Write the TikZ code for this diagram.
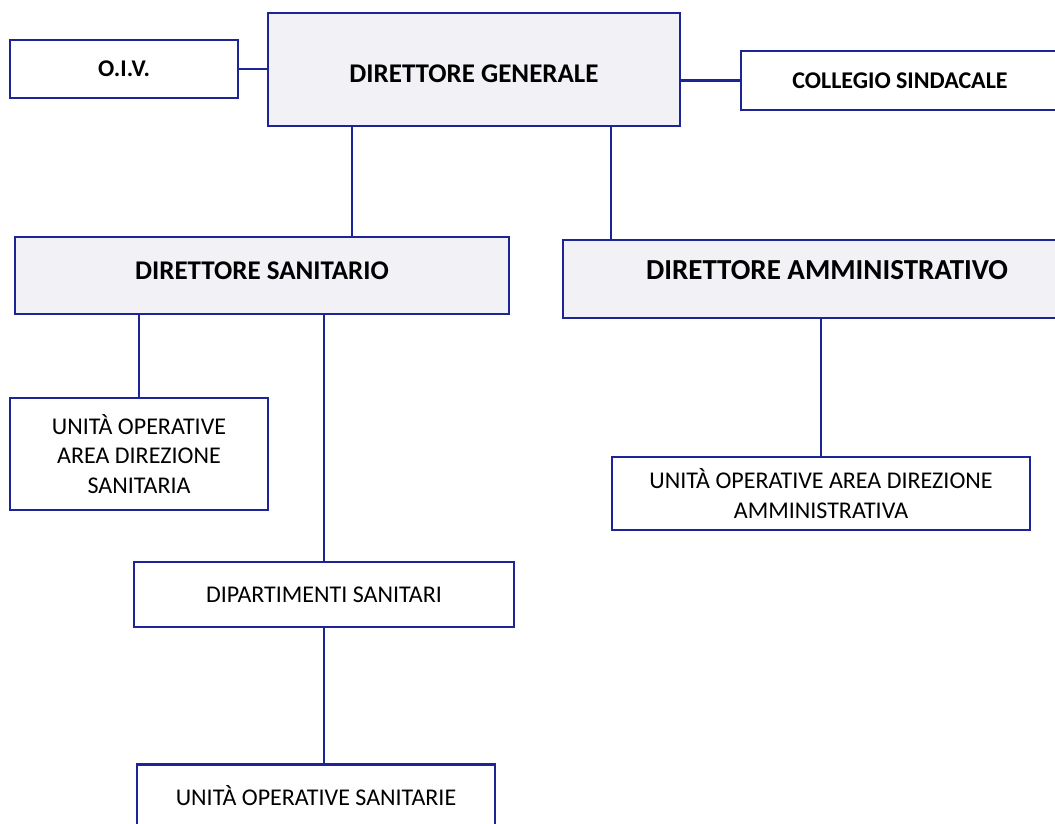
\documentclass[tikz,border=0pt]{standalone}
\usepackage{fontspec}
\setmainfont{Carlito}

\definecolor{orgblue}{RGB}{28,36,150}
\definecolor{orgfill}{RGB}{241,241,246}

\begin{document}
\begin{tikzpicture}[x=1pt,y=-1pt,
	unitbox/.style={draw=orgblue,line width=2.4pt,rectangle,inner sep=0pt,align=center,font=\fontsize{24}{29.5}\selectfont},
	headbox/.style={unitbox,fill=orgfill,font=\fontsize{27}{32}\selectfont\bfseries},
	sidebox/.style={unitbox,font=\fontsize{24}{29}\selectfont\bfseries},
	link/.style={draw=orgblue,line width=2.4pt}]

	\useasboundingbox (0,0) rectangle (1055,823);
	\fill [white] (0,0) rectangle (1055,823);
	\clip (0,0) rectangle (1055,823);

	% top row
	\node [name=oiv,sidebox,minimum width=228,minimum height=58] at (124,69) {O.I.V.};
	\node [name=dg,headbox,minimum width=412,minimum height=113,text height=26] at (474,69.5) {DIRETTORE GENERALE};
	\node [name=cs,sidebox,minimum width=318,minimum height=59] at (900,80.5) {COLLEGIO SINDACALE};

	% directors
	\node [name=ds,headbox,minimum width=494,minimum height=77,text depth=10] at (262,275.5) {DIRETTORE SANITARIO};
	\node [name=da,headbox,minimum width=528,minimum height=78,text depth=18,font=\fontsize{29}{34}\selectfont\bfseries] at (827,279) {DIRETTORE AMMINISTRATIVO};

	% units
	\node [name=uods,unitbox,minimum width=258,minimum height=112] at (139,454) {UNITÀ OPERATIVE\\AREA DIREZIONE\\SANITARIA};
	\node [name=uoda,unitbox,minimum width=418,minimum height=73] at (821,493.5) {UNITÀ OPERATIVE AREA DIREZIONE\\AMMINISTRATIVA};
	\node [name=dip,unitbox,minimum width=380,minimum height=65] at (324,594.5) {DIPARTIMENTI SANITARI};
	\node [name=uos,unitbox,minimum width=358,minimum height=63] at (316,796) {UNITÀ OPERATIVE SANITARIE};

	\coordinate (dsline) at (352,0);
	\coordinate (daline) at (611,0);

	\draw [link] (oiv.east) -- (oiv.east -| dg.west);
	\draw [link] (cs.west -| dg.east) -- (cs.west);
	\draw [link] (dg.south -| dsline) -- (ds.north -| dsline);
	\draw [link] (dg.south -| daline) -- (da.north -| daline);
	\draw [link] (ds.south -| uods.north) -- (uods.north);
	\draw [link] (ds.south -| dip.north) -- (dip.north);
	\draw [link] (dip.south) -- (dip.south |- uos.north);
	\draw [link] (da.south -| uoda.north) -- (uoda.north);

\end{tikzpicture}
\end{document}
